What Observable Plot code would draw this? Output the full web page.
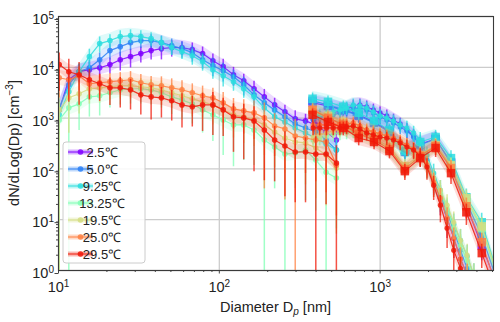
<!DOCTYPE html>
<html>
<head>
<meta charset="utf-8">
<script src="https://cdn.jsdelivr.net/npm/d3@7"></script>
<script src="https://cdn.jsdelivr.net/npm/@observablehq/plot@0.6"></script>
<style>
  html, body { margin: 0; padding: 0; background: #fff; }
  #chart svg { display: block; }
</style>
</head>
<body>
<div id="chart"></div>
<script>
// ---- categories ----
const temperatures = ["2.5℃", "5.0℃", "9.25℃", "13.25℃", "19.5℃", "25.0℃", "29.5℃"];
const seriesColors = ["#8000ff", "#2a80f6", "#2addde", "#80ffb4", "#d4dd80", "#ff8042", "#f01808"];

// ---- diameters (nm) ----
const smpsDiameters = [10.1, 11.59, 13.43, 15.56, 18.03, 20.89, 24.21, 28.05, 32.51, 37.67, 43.65, 50.58, 58.61, 67.92, 78.70, 91.20, 105.7, 122.5, 141.9, 164.4, 190.5, 220.8, 255.9, 296.5, 343.6, 398.1, 461.3, 534.6];
const apsDiameters = [383, 421, 464, 511, 562, 619, 681, 749, 825, 908, 999, 1100, 1211, 1333, 1467, 1615, 1777, 1956, 2153, 2370, 2609, 2871, 3161, 3479, 3829];
const opcDiameters = [380, 474, 590, 736, 917, 1143, 1425, 1776, 2213, 2759, 3438, 4286, 5342];

// ---- SMPS dN/dlogDp (cm^-3) ----
const smps_2_5  = [1450, 5690, 8190, 8970, 9820, 11300, 14100, 16200, 18600, 21300, 23300, 24400, 24400, 22300, 18600, 13500, 10300, 7140, 5430, 3780, 2620, 1820, 1330, 964, 880, 734, 534, 371];
const smps_5_0  = [1590, 4530, 8190, 9820, 14100, 21300, 25500, 30600, 33600, 33600, 30600, 26700, 23300, 19400, 14100, 10800, 8570, 6520, 4530, 2870, 2000, 1450, 1060, 768, 640, 534, 371, 235];
const smps_9_25 = [1160, 3300, 8190, 16200, 29300, 33600, 40200, 42100, 40200, 36800, 30600, 24400, 20300, 16900, 12900, 8970, 6820, 5190, 3780, 2620, 1590, 1060, 841, 640, 510, 406, 309, 235];
const smps_13_25 = [921, 1590, 1910, 2620, 2750, 3150, 3610, 3780, 3780, 3610, 3150, 2620, 2290, 1910, 1450, 1160, 921, 734, 734, 585, 371, 270, 196, 205, 235, 149, 86, 66];
const smps_19_5 = [1450, 2510, 3010, 3780, 3950, 4140, 4330, 4330, 4140, 3950, 3610, 3150, 2750, 2400, 2090, 1820, 1450, 1160, 1060, 921, 734, 534, 406, 339, 324, 258, 187, 104];
const smps_25_0 = [6230, 5690, 6820, 4740, 4960, 5190, 5430, 5690, 4960, 4530, 4330, 3950, 3610, 3150, 2750, 2510, 2000, 1520, 1390, 1270, 1010, 701, 612, 445, 406, 371, 339, 119];
const smps_29_5 = [11300, 8190, 7140, 5690, 4740, 3950, 3950, 3610, 2870, 2620, 2510, 2190, 1820, 1670, 1820, 1820, 1450, 1060, 1010, 880, 585, 371, 282, 215, 215, 196, 196, 130];

// ---- SMPS relative standard deviation ----
const smpsErr_2_5  = [0.5, 0.4, 0.35, 0.4, 0.4, 0.35, 0.4, 0.4, 0.35, 0.35, 0.4, 0.35, 0.3, 0.35, 0.35, 0.35, 0.4, 0.4, 0.35, 0.4, 0.4, 0.35, 0.35, 0.45, 0.35, 0.4, 0.45, 0.5];
const smpsErr_5_0  = [0.5, 0.45, 0.4, 0.4, 0.35, 0.35, 0.35, 0.3, 0.3, 0.3, 0.35, 0.35, 0.35, 0.35, 0.35, 0.4, 0.4, 0.35, 0.4, 0.4, 0.35, 0.4, 0.4, 0.35, 0.4, 0.45, 0.5, 0.55];
const smpsErr_9_25 = [0.6, 0.5, 0.45, 0.4, 0.35, 0.3, 0.3, 0.3, 0.3, 0.3, 0.3, 0.3, 0.3, 0.35, 0.35, 0.35, 0.4, 0.35, 0.35, 0.4, 0.4, 0.45, 0.4, 0.4, 0.45, 0.5, 0.5, 0.6];
const smpsErr_13_25 = [1.2, 1.1, 0.7, 0.6, 0.6, 0.5, 0.5, 0.5, 0.5, 0.5, 0.5, 0.55, 0.6, 0.6, 0.65, 0.7, 0.8, 0.85, 0.8, 0.8, 1.1, 0.85, 1.1, 0.8, 0.9, 0.9, 1.2, 0.9];
const smpsErr_19_5 = [1.1, 0.8, 0.6, 0.5, 0.5, 0.45, 0.45, 0.45, 0.45, 0.45, 0.5, 0.5, 0.5, 0.55, 0.55, 0.6, 0.6, 0.65, 0.7, 0.7, 0.75, 0.8, 0.8, 0.85, 0.85, 0.9, 0.9, 0.95];
const smpsErr_25_0 = [0.6, 0.6, 0.5, 0.5, 0.45, 0.45, 0.45, 0.45, 0.45, 0.45, 0.5, 0.5, 0.5, 0.5, 0.55, 0.55, 0.6, 0.6, 0.65, 0.7, 0.96, 0.75, 0.96, 1.1, 0.8, 0.85, 0.9, 0.9];
const smpsErr_29_5 = [0.7, 0.75, 0.75, 0.6, 0.55, 0.55, 0.6, 0.6, 0.6, 0.65, 0.6, 0.6, 0.65, 0.6, 0.7, 0.75, 0.7, 0.8, 0.85, 0.9, 0.9, 0.85, 0.9, 0.9, 0.9, 1.2, 0.9, 1.2];

// ---- APS (fine, dots) ----
const aps_2_5  = [964, 1060, 1160, 1270, 1390, 1520, 1740, 1820, 1670, 1450, 1270, 1110, 921, 768, 585, 445, 282, 136, 60.1, 26.5, 10.7, 4.3, 1.7, 0.80, 0.40];
const aps_5_0  = [921, 1010, 1110, 1160, 1270, 1390, 1520, 1590, 1450, 1270, 1060, 921, 804, 670, 559, 425, 295, 149, 65.8, 30.4, 14.0, 6.2, 2.5, 1.10, 0.51];
const aps_9_25 = [1060, 1160, 1210, 1330, 1450, 1590, 1820, 1740, 1590, 1330, 1110, 1010, 880, 734, 640, 510, 371, 187, 82.6, 38.1, 15.3, 8.1, 3.9, 1.9, 0.80];
const aps_13_25 = [371, 406, 445, 488, 510, 534, 559, 559, 510, 466, 425, 388, 339, 295, 258, 215, 179, 114, 54.8, 33.2, 16.8, 6.8, 3.1, 1.6, 0.63];
const aps_19_5 = [425, 466, 510, 559, 585, 612, 640, 640, 585, 534, 488, 445, 388, 339, 295, 246, 196, 130, 65.8, 38.1, 19.3, 8.9, 3.9, 2.0, 0.80];
const aps_25_0 = [734, 734, 734, 734, 768, 768, 804, 701, 585, 534, 488, 445, 406, 354, 295, 246, 187, 119, 54.8, 26.5, 10.7, 4.3, 1.7, 0.80, 0.37];
const aps_29_5 = [640, 640, 640, 640, 640, 670, 701, 612, 510, 466, 425, 406, 371, 324, 270, 235, 179, 109, 47.8, 19.3, 6.8, 2.5, 1.10, 0.51, 0.26];
const apsErr = [0.3, 0.3, 0.3, 0.3, 0.3, 0.3, 0.3, 0.3, 0.3, 0.3, 0.3, 0.3, 0.3, 0.3, 0.35, 0.35, 0.4, 0.45, 0.5, 0.55, 0.6, 0.6, 0.65, 0.65, 0.7];

// ---- OPC (coarse, squares) ----
const opc_2_5  = [2000, 1740, 1450, 1160, 841, 559, 235, 309, 388, 130, 19.3, 3.1, 0.51];
const opc_5_0  = [2190, 1820, 1450, 1110, 804, 534, 215, 295, 388, 136, 22.1, 4.9, 0.63];
const opc_9_25 = [2400, 2090, 1670, 1270, 880, 585, 225, 339, 425, 163, 27.7, 8.9, 0.91];
const opc_13_25 = [1330, 1010, 768, 510, 371, 246, 104, 171, 282, 114, 24.2, 6.8, 0.76];
const opc_19_5 = [1450, 1110, 841, 559, 406, 270, 114, 187, 295, 119, 26.5, 7.4, 0.83];
const opc_25_0 = [1450, 1010, 734, 488, 371, 246, 99, 179, 282, 104, 18.4, 3.6, 0.44];
const opc_29_5 = [1160, 841, 640, 406, 339, 225, 90.5, 163, 258, 82.6, 14.0, 2.2, 0.32];
const opcErr = [0.3, 0.3, 0.3, 0.3, 0.3, 0.3, 0.35, 0.35, 0.35, 0.4, 0.45, 0.5, 0.6];

// ---- axis ticks ----
const xMajor = [10, 100, 1000];
const xMinor = [20, 30, 40, 50, 60, 70, 80, 90, 200, 300, 400, 500, 600, 700, 800, 900, 2000, 3000, 4000, 5000];
const yMajor = [1, 10, 100, 1000, 10000, 100000];
const yMinor = [2,3,4,5,6,7,8,9, 20,30,40,50,60,70,80,90, 200,300,400,500,600,700,800,900, 2000,3000,4000,5000,6000,7000,8000,9000, 20000,30000,40000,50000,60000,70000,80000,90000];

const smpsSeries = [smps_2_5, smps_5_0, smps_9_25, smps_13_25, smps_19_5, smps_25_0, smps_29_5];
const smpsErrSeries = [smpsErr_2_5, smpsErr_5_0, smpsErr_9_25, smpsErr_13_25, smpsErr_19_5, smpsErr_25_0, smpsErr_29_5];
const apsSeries = [aps_2_5, aps_5_0, aps_9_25, aps_13_25, aps_19_5, aps_25_0, aps_29_5];
const opcSeries = [opc_2_5, opc_5_0, opc_9_25, opc_13_25, opc_19_5, opc_25_0, opc_29_5];

const bandFactor = 1.4; // width of shaded band (style)
const rows = (ds, vs, es) => ds.map((d, i) => ({d, v: vs[i], e: es[i]}));

const dataMarks = [];
temperatures.forEach((t, s) => {
  const c = seriesColors[s];
  const segs = [
    {data: rows(smpsDiameters, smpsSeries[s], smpsErrSeries[s]), symbol: "circle", r: 2.8},
    {data: rows(apsDiameters, apsSeries[s], apsErr), symbol: "circle", r: 2.6},
    {data: rows(opcDiameters, opcSeries[s], opcErr), symbol: "square", r: 4.8}
  ];
  segs.forEach(seg => {
    dataMarks.push(Plot.areaY(seg.data, {x: "d", y1: r => r.v / bandFactor, y2: r => r.v * bandFactor, fill: c, fillOpacity: 0.15, clip: true}));
  });
  segs.forEach(seg => {
    dataMarks.push(Plot.ruleX(seg.data, {x: "d", y1: r => r.e >= 1 ? 1e-3 : r.v * (1 - r.e), y2: r => r.v * (1 + r.e), stroke: c, strokeWidth: 1.5, strokeOpacity: 0.75, clip: true}));
    dataMarks.push(Plot.line(seg.data, {x: "d", y: "v", stroke: c, strokeWidth: 1.2, strokeOpacity: 0.85, clip: true}));
    dataMarks.push(Plot.dot(seg.data, {x: "d", y: "v", fill: c, fillOpacity: 0.85, r: seg.r, symbol: seg.symbol, clip: true}));
  });
});

const expFmt = d => String(Math.round(Math.log10(d)));

const plot = Plot.plot({
  width: 500,
  height: 322,
  marginLeft: 58,
  marginRight: 7,
  marginTop: 16,
  marginBottom: 52,
  style: {fontFamily: "'Liberation Sans', Arial, sans-serif", background: "white", overflow: "visible"},
  x: {type: "log", domain: [10, 5070]},
  y: {type: "log", domain: [1, 1e5]},
  marks: [
    Plot.gridX({ticks: xMajor, stroke: "#cccccc", strokeOpacity: 1, strokeWidth: 1.3}),
    Plot.gridY({ticks: yMajor, stroke: "#cccccc", strokeOpacity: 1, strokeWidth: 1.3}),
    ...dataMarks,
    Plot.axisX({ticks: xMinor, tickFormat: () => "", tickSize: 2, label: null, stroke: "#444"}),
    Plot.axisX({ticks: xMajor, tickFormat: expFmt, tickSize: 3.5, tickPadding: 8, fontSize: 14.5, label: null, stroke: "#444", fill: "#222"}),
    Plot.axisY({ticks: yMinor, tickFormat: () => "", tickSize: 2, label: null, stroke: "#444"}),
    Plot.axisY({ticks: yMajor, tickFormat: expFmt, tickSize: 3.5, tickPadding: 1, fontSize: 14.5, label: null, dy: 3, stroke: "#444", fill: "#222"}),
    Plot.frame({stroke: "#3a3a3a", strokeWidth: 1.1})
  ]
});

// superscript exponents on tick labels
const NS = "http://www.w3.org/2000/svg";
plot.querySelectorAll('g[aria-label="x-axis tick label"] text, g[aria-label="y-axis tick label"] text').forEach(t => {
  const e = t.textContent;
  if (!e) return;
  t.textContent = "";
  const a = document.createElementNS(NS, "tspan");
  a.textContent = "10";
  t.appendChild(a);
  const b = document.createElementNS(NS, "tspan");
  b.textContent = e;
  b.setAttribute("dy", "-0.55em");
  b.setAttribute("font-size", "10px");
  t.appendChild(b);
});

const svg = d3.select(plot);
svg.attr("font-family", "'Liberation Sans', Arial, sans-serif");

// axis labels
const xl = svg.append("text").attr("x", 275.5).attr("y", 312).attr("text-anchor", "middle").attr("font-size", 14.5).attr("fill", "#222");
xl.append("tspan").text("Diameter D");
xl.append("tspan").text("p").attr("font-size", 10).attr("font-style", "italic").attr("dy", 3);
xl.append("tspan").text(" [nm]").attr("dy", -3);

const yl = svg.append("text").attr("transform", "translate(19,143) rotate(-90)").attr("text-anchor", "middle").attr("font-size", 14.5).attr("fill", "#222");
yl.append("tspan").text("dN/dLog(Dp) [cm");
yl.append("tspan").text("\u22123").attr("font-size", 10).attr("dy", -6);
yl.append("tspan").text("]").attr("dy", 6);

// legend
const lg = svg.append("g");
lg.append("rect").attr("x", 63).attr("y", 142).attr("width", 82).attr("height", 121).attr("rx", 3)
  .attr("fill", "white").attr("fill-opacity", 0.85).attr("stroke", "#cccccc").attr("stroke-width", 1);
temperatures.forEach((t, i) => {
  const y = 152 + 17 * i;
  const c = seriesColors[i];
  lg.append("line").attr("x1", 68).attr("x2", 93).attr("y1", y).attr("y2", y).attr("stroke", c).attr("stroke-opacity", 0.3).attr("stroke-width", 5);
  lg.append("line").attr("x1", 68).attr("x2", 93).attr("y1", y).attr("y2", y).attr("stroke", c).attr("stroke-opacity", 0.85).attr("stroke-width", 1.2);
  lg.append("circle").attr("cx", 80.5).attr("cy", y).attr("r", 2.8).attr("fill", c).attr("fill-opacity", 0.85);
  lg.append("text").attr("x", 102).attr("y", y + 4.5).attr("font-size", 13).attr("fill", "#222").text(t);
});

document.getElementById("chart").appendChild(plot);
</script>
</body>
</html>
